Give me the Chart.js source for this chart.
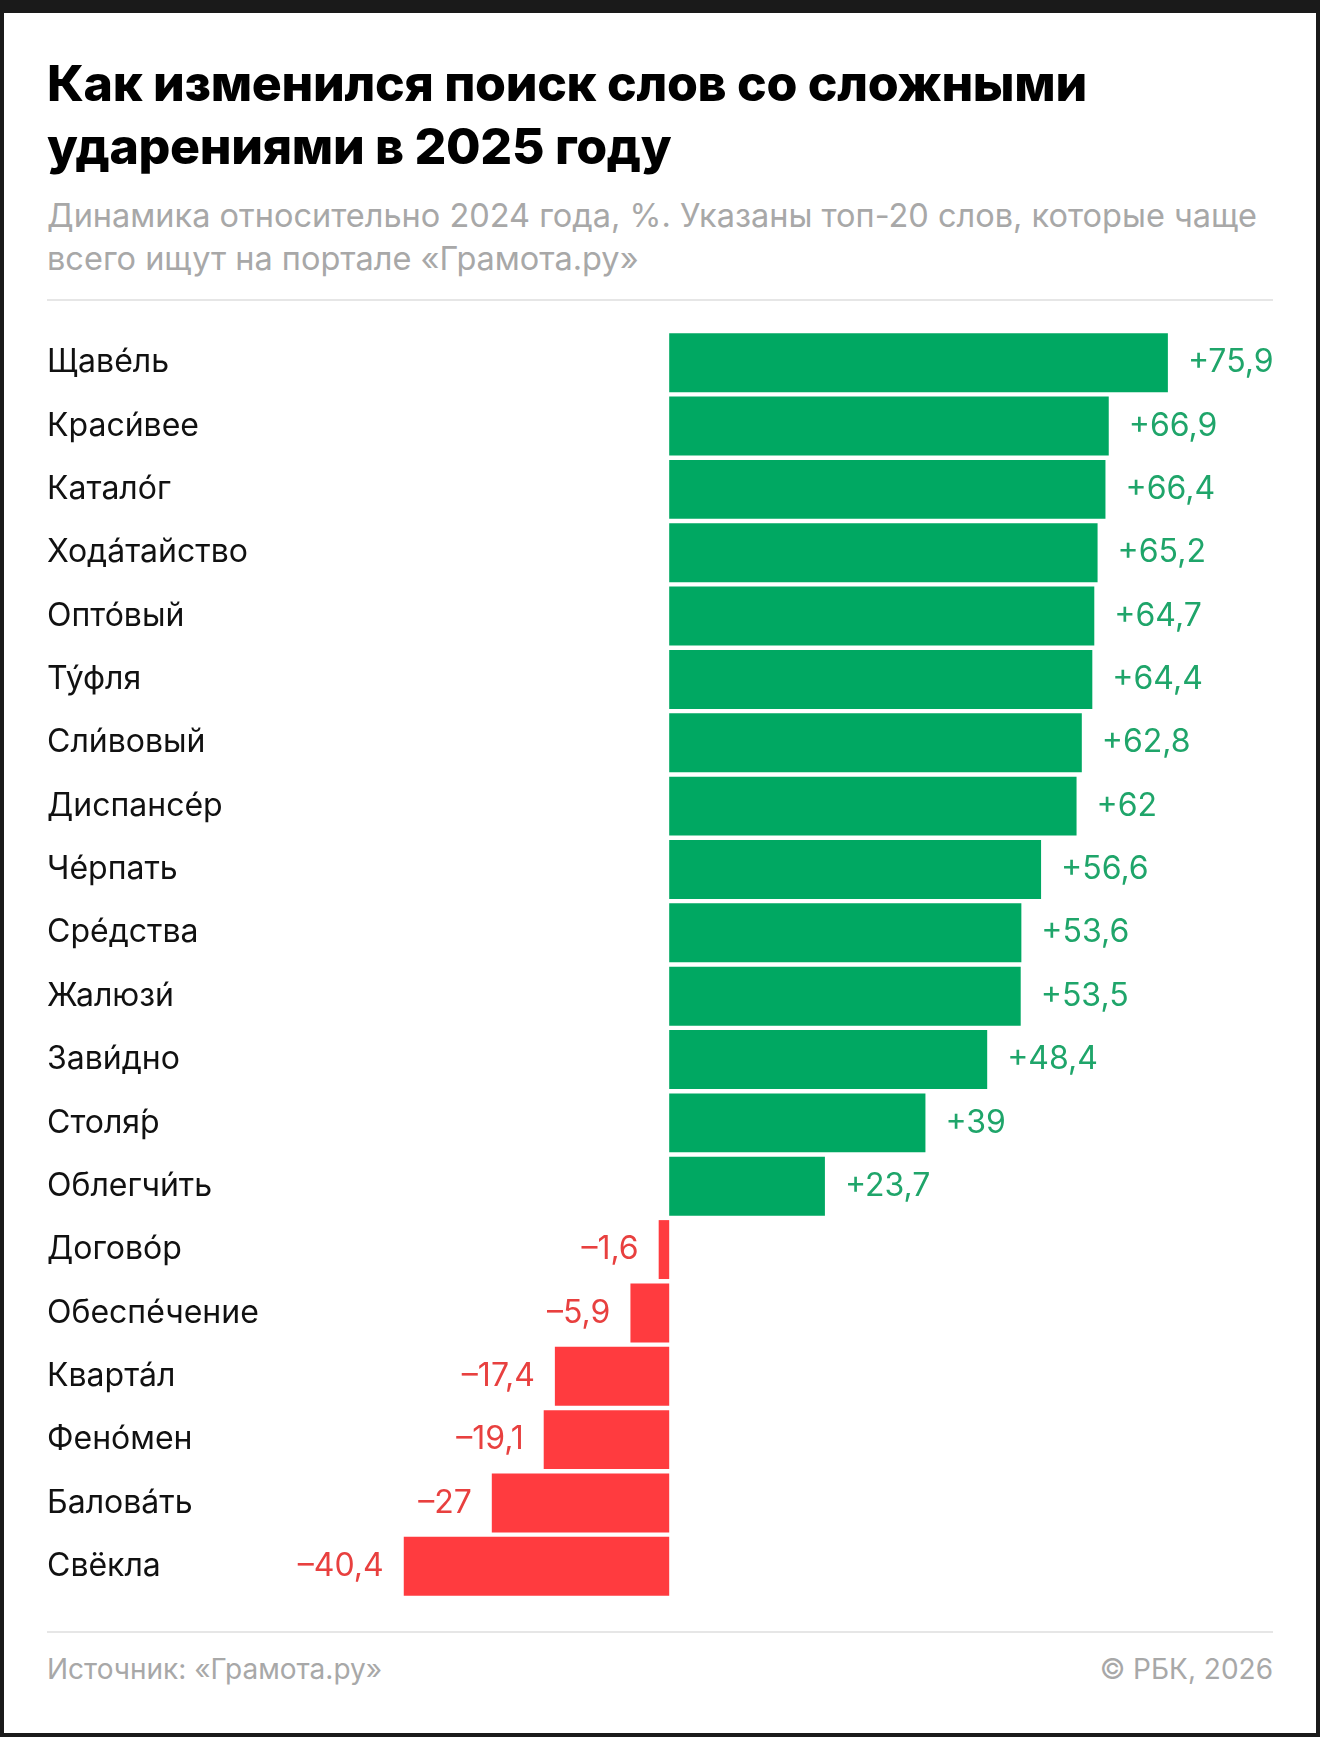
<!DOCTYPE html>
<html><head><meta charset="utf-8">
<script src="https://cdn.jsdelivr.net/npm/chart.js@4"></script>
<style>
body{margin:0;background:#1a1a1a;}
#frame{position:absolute;left:4px;top:13px;width:1312px;height:1720px;background:#fff;}
.t{position:absolute;left:47px;font-family:Inter,"Noto Sans",sans-serif;}
#title{top:52px;font-size:50px;font-weight:800;line-height:63px;color:#000;letter-spacing:-0.3px;}
#sub{top:194px;font-size:32.5px;line-height:43px;color:#a8a8a8;}
.hr{position:absolute;left:47px;width:1226px;height:2px;background:#e6e6e6;}
#foot1{top:1652px;font-size:28px;color:#a8a8a8;}
#foot2{top:1652px;left:auto;right:47px;font-size:28px;color:#a8a8a8;}
#wrap{position:absolute;left:0;top:331px;width:1320px;height:1267px;}
</style></head><body>
<div id="frame"></div>
<div class="t" id="title">Как изменился поиск слов со сложными<br>ударениями в 2025 году</div>
<div class="t" id="sub">Динамика относительно 2024 года, %. Указаны топ-20 слов, которые чаще<br>всего ищут на портале «Грамота.ру»</div>
<div class="hr" style="top:299px"></div>
<div class="hr" style="top:1631px"></div>
<div class="t" id="foot1">Источник: «Грамота.ру»</div>
<div class="t" id="foot2">© РБК, 2026</div>
<div id="wrap"><canvas id="c"></canvas></div>
<script>
const words = ["Щаве́ль","Краси́вее","Катало́г","Хода́тайство","Опто́вый","Ту́фля","Сли́вовый","Диспансе́р","Че́рпать","Сре́дства","Жалюзи́","Зави́дно","Столя́р","Облегчи́ть","Догово́р","Обеспе́чение","Кварта́л","Фено́мен","Балова́ть","Свёкла"];
const values = [75.9,66.9,66.4,65.2,64.7,64.4,62.8,62,56.6,53.6,53.5,48.4,39,23.7,-1.6,-5.9,-17.4,-19.1,-27,-40.4];

const fmt = v => (v > 0 ? "+" : "–") + String(Math.abs(v)).replace(".", ",");

const labelsPlugin = {
  id: "labels",
  afterDatasetsDraw(chart) {
    const ctx = chart.ctx;
    const meta = chart.getDatasetMeta(0);
    ctx.save();
    ctx.font = "32px Inter, 'Noto Sans', sans-serif";
    ctx.textBaseline = "middle";
    meta.data.forEach((bar, i) => {
      const v = values[i];
      ctx.fillStyle = "#111";
      ctx.textAlign = "left";
      ctx.fillText(words[i], 47, bar.y);
      if (v > 0) {
        ctx.fillStyle = "#1fa56a";
        ctx.fillText(fmt(v), bar.x + 20, bar.y);
      } else {
        ctx.fillStyle = "#e8403f";
        ctx.textAlign = "right";
        ctx.fillText(fmt(v), bar.x - 20, bar.y);
      }
    });
    ctx.restore();
  }
};

new Chart(document.getElementById("c"), {
  type: "bar",
  data: {
    labels: words,
    datasets: [{
      data: values,
      backgroundColor: values.map(v => v > 0 ? "#00a862" : "#ff3b3f"),
      barPercentage: 0.93,
      categoryPercentage: 1
    }]
  },
  options: {
    indexAxis: "y",
    responsive: true,
    maintainAspectRatio: false,
    animation: false,
    layout: { padding: { left: 47, right: 47, top: 0, bottom: 0 } },
    plugins: { legend: { display: false }, tooltip: { enabled: false } },
    scales: {
      x: { min: -94.7, max: 91.9, display: false },
      y: { display: false }
    }
  },
  plugins: [labelsPlugin]
});
</script>
</body></html>
